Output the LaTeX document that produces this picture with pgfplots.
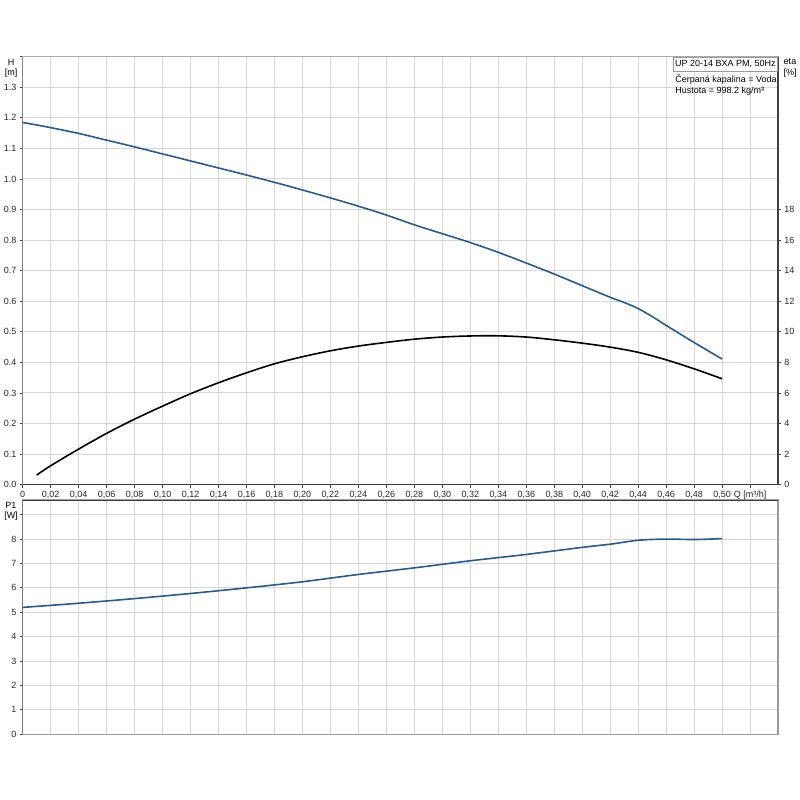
\documentclass[border=0pt]{standalone}
\usepackage{fontspec}
\setmainfont{Liberation Sans}
\usepackage{pgfplots}
\usepackage{pgfplotstable}
\pgfplotsset{compat=1.18}
\definecolor{curveblue}{HTML}{2C5A88}
\definecolor{gridgray}{HTML}{D6D6D6}
\definecolor{axisgray}{HTML}{404040}
\definecolor{framegray}{HTML}{9A9A9A}

\pgfplotstableread{
Q H
0    1.185
0.02 1.168
0.04 1.149
0.06 1.127
0.08 1.105
0.10 1.082
0.12 1.059
0.14 1.036
0.16 1.013
0.18 0.989
0.20 0.964
0.22 0.938
0.24 0.911
0.26 0.882
0.28 0.850
0.30 0.821
0.32 0.792
0.34 0.760
0.36 0.725
0.38 0.689
0.40 0.651
0.42 0.613
0.43 0.596
0.44 0.576
0.45 0.550
0.46 0.521
0.48 0.465
0.50 0.411
}\Hdata

\pgfplotstableread{
Q eta
0.01 0.63
0.02 1.24
0.04 2.33
0.06 3.36
0.08 4.29
0.10 5.14
0.12 5.95
0.14 6.67
0.16 7.32
0.18 7.91
0.20 8.37
0.22 8.76
0.24 9.07
0.26 9.31
0.28 9.52
0.30 9.66
0.32 9.73
0.34 9.74
0.36 9.66
0.38 9.48
0.40 9.26
0.42 9.00
0.44 8.66
0.46 8.17
0.48 7.58
0.50 6.93
}\Etadata

\pgfplotstableread{
Q P
0    5.20
0.04 5.37
0.08 5.56
0.12 5.77
0.16 6.00
0.20 6.25
0.24 6.55
0.28 6.82
0.32 7.11
0.36 7.37
0.40 7.66
0.42 7.79
0.44 7.95
0.46 8.00
0.48 7.98
0.50 8.02
}\Pdata

\begin{document}
\fontsize{4.5}{5}\selectfont
\begin{tikzpicture}
\useasboundingbox (0,0) rectangle (400pt,400pt);
\pgfplotsset{
  every axis/.append style={
    scale only axis, width=377.7pt,
    xmin=0, xmax=0.54,
    xtick={0,0.02,0.04,0.06,0.08,0.10,0.12,0.14,0.16,0.18,0.20,0.22,0.24,0.26,0.28,0.30,0.32,0.34,0.36,0.38,0.40,0.42,0.44,0.46,0.48,0.50,0.52},
    major grid style={gridgray, line width=0.5pt},
    tick style={axisgray, line width=0.4pt},
    major tick length=1.5pt,
    tick align=outside,
    axis line style={axisgray, line width=0.5pt},
    ticklabel style={font=\fontsize{4.5}{5}\selectfont, text=black!85},
    /pgf/number format/assume math mode=true,
  }
}
% top axis: H
\begin{axis}[
  at={(11.35pt,157.65pt)}, anchor=south west, height=214pt,
  ymin=0, ymax=1.4,
  grid=major, tick pos=left,
  axis line style={gridgray!80!black, line width=0.5pt},
  ytick={0,0.1,0.2,0.3,0.4,0.5,0.6,0.7,0.8,0.9,1.0,1.1,1.2,1.3,1.4},
  yticklabels={0.0,0.1,0.2,0.3,0.4,0.5,0.6,0.7,0.8,0.9,1.0,1.1,1.2,1.3,{}},
  xticklabels={0,{0,02},{0,04},{0,06},{0,08},{0,10},{0,12},{0,14},{0,16},{0,18},{0,20},{0,22},{0,24},{0,26},{0,28},{0,30},{0,32},{0,34},{0,36},{0,38},{0,40},{0,42},{0,44},{0,46},{0,48},{0,50},{Q [m³/h]}},
]
\addplot[curveblue, line width=0.8pt, smooth] table[x=Q, y=H] {\Hdata};
\draw[axisgray, line width=0.6pt] (rel axis cs:0,1) -- (rel axis cs:0,0) -- (rel axis cs:1,0);
\end{axis}
% top axis: eta (right)
\begin{axis}[
  at={(11.35pt,157.65pt)}, anchor=south west, height=214pt,
  ymin=0, ymax=28,
  axis y line*=right, axis x line=none,
  axis line style={axisgray, line width=0.6pt},
  ytick={0,2,4,6,8,10,12,14,16,18},
]
\addplot[black, line width=0.8pt, smooth] table[x=Q, y=eta] {\Etadata};
\end{axis}
% bottom axis: P1
\begin{axis}[
  at={(11.35pt,32.85pt)}, anchor=south west, height=117.15pt,
  ymin=0, ymax=9.6,
  grid=major, ytick pos=left,
  axis line style={framegray, line width=0.6pt},
  xtick style={draw=none},
  ytick={0,1,2,3,4,5,6,7,8,9},
  yticklabels={0,1,2,3,4,5,6,7,8,{}},
  xticklabels={},
]
\addplot[curveblue, line width=0.8pt, smooth] table[x=Q, y=P] {\Pdata};
\draw[axisgray, line width=0.7pt] (rel axis cs:0,0) -- (rel axis cs:0,1) -- (rel axis cs:1,1);
\end{axis}
% labels
\node[inner sep=0pt] at (5.5pt,369pt) {H};
\node[inner sep=0pt] at (5.5pt,363.5pt) {[m]};
\node[inner sep=0pt] at (395pt,369pt) {eta};
\node[inner sep=0pt] at (395pt,363.5pt) {[\%]};
\node[inner sep=0pt] at (5.5pt,147.5pt) {P1};
\node[inner sep=0pt] at (5.5pt,142pt) {[W]};
\node[draw=framegray, fill=white, line width=0.4pt, anchor=north east, minimum height=7pt, inner xsep=1pt, inner ysep=0pt] at (389pt,371.65pt) {UP 20-14 BXA PM, 50Hz};
\node[inner sep=0pt, anchor=west] at (337.5pt,360pt) {Čerpaná kapalina = Voda};
\node[inner sep=0pt, anchor=west] at (337.5pt,354.65pt) {Hustota = 998.2 kg/m³};
\end{tikzpicture}
\end{document}
